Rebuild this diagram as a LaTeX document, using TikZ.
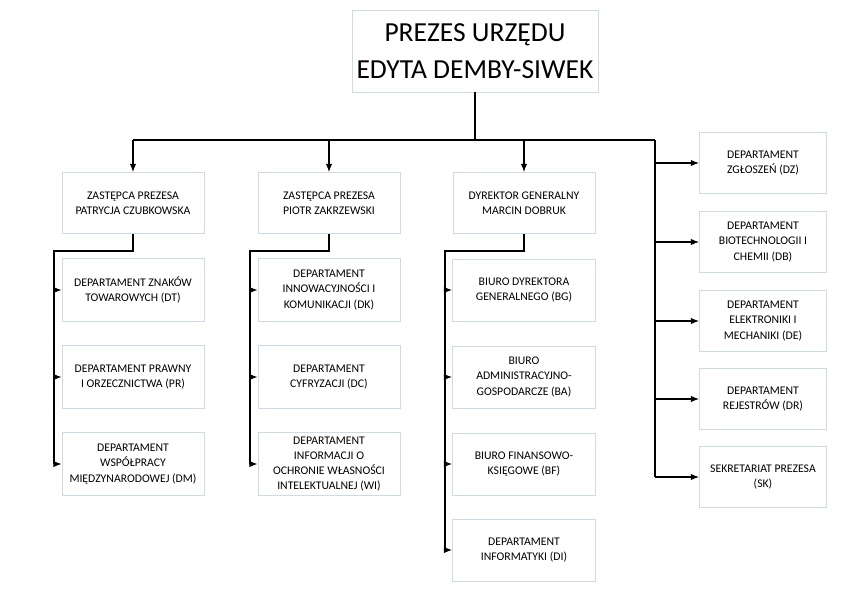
\documentclass[tikz,border=0pt]{standalone}
\usepackage{fontspec}
\setmainfont{Carlito}
\usetikzlibrary{positioning, arrows.meta}
\definecolor{boxline}{RGB}{205,218,232}
\tikzset{
	unit/.style={draw=boxline, line width=0.8pt, fill=white, align=center, font=\fontsize{10}{13}\selectfont, inner sep=2pt},
	link/.style={draw=black, line width=0.9pt, -{Latex[length=7pt, width=5.5pt]}}
}
\begin{document}
\begin{tikzpicture}[x=0.03cm, y=-0.03cm]
	\useasboundingbox (0,0) rectangle (866,606);
	\node[unit, minimum width=246*0.03cm, minimum height=82*0.03cm, font=\fontsize{23.5}{31}\selectfont] (prezes) at (475,51) {PREZES URZĘDU\\EDYTA DEMBY-SIWEK};
	% zastepcy i dyrektor
	\foreach \n/\x/\t in {zp1/133/{ZASTĘPCA PREZESA\\PATRYCJA CZUBKOWSKA}, zp2/329/{ZASTĘPCA PREZESA\\PIOTR ZAKRZEWSKI}, dg/524/{DYREKTOR GENERALNY\\MARCIN DOBRUK}}
		\node[unit, minimum width=142*0.03cm, minimum height=61*0.03cm] (\n) at (\x,203) {\t};
	% departamenty pod zastepcami
	\foreach \n/\y/\t in {dt/290/{DEPARTAMENT ZNAKÓW\\TOWAROWYCH (DT)}, pr/377/{DEPARTAMENT PRAWNY\\I ORZECZNICTWA (PR)}, dm/464/{DEPARTAMENT\\WSPÓŁPRACY\\MIĘDZYNARODOWEJ (DM)}}
		\node[unit, minimum width=142*0.03cm, minimum height=63*0.03cm] (\n) at (133,\y) {\t};
	\foreach \n/\y/\t in {dk/290/{DEPARTAMENT\\INNOWACYJNOŚCI I\\KOMUNIKACJI (DK)}, dc/377/{DEPARTAMENT\\CYFRYZACJI (DC)}, wi/464/{DEPARTAMENT\\INFORMACJI O\\OCHRONIE WŁASNOŚCI\\INTELEKTUALNEJ (WI)}}
		\node[unit, minimum width=142*0.03cm, minimum height=63*0.03cm] (\n) at (329,\y) {\t};
	\foreach \n/\y/\t in {bg/290/{BIURO DYREKTORA\\GENERALNEGO (BG)}, ba/377/{BIURO\\ADMINISTRACYJNO-\\GOSPODARCZE (BA)}, bf/464/{BIURO FINANSOWO-\\KSIĘGOWE (BF)}, di/550/{DEPARTAMENT\\INFORMATYKI (DI)}}
		\node[unit, minimum width=143*0.03cm, minimum height=62*0.03cm] (\n) at (524,\y) {\t};
	% departamenty prezesa
	\foreach \n/\y/\t in {dz/163/{DEPARTAMENT\\ZGŁOSZEŃ (DZ)}, db/242/{DEPARTAMENT\\BIOTECHNOLOGII I\\CHEMII (DB)}, de/321/{DEPARTAMENT\\ELEKTRONIKI I\\MECHANIKI (DE)}, dr/399/{DEPARTAMENT\\REJESTRÓW (DR)}, sk/477/{SEKRETARIAT PREZESA\\(SK)}}
		\node[unit, minimum width=127*0.03cm, minimum height=61*0.03cm] (\n) at (763,\y) {\t};
	% polaczenia
	\coordinate (hub) at (475,140);
	\coordinate (rt) at (655,140);
	\draw[line width=0.9pt] (prezes.south) -- (hub) (zp1.north |- hub) -- (rt);
	\foreach \n in {zp1, zp2, dg}
		\draw[link] (\n.north |- hub) -- (\n.north);
	\foreach \n in {dz, db, de, dr, sk}
		\draw[link] (rt |- \n.west) -- (\n.west);
	\draw[line width=0.9pt] (rt) -- (rt |- sk.west);
	\foreach \p/\x/\a/\b in {zp1/54/dt/dm, zp2/250/dk/wi, dg/445/bg/di} {
		\draw[line width=0.9pt] (\p.south) -- ++(0,17) -| (\x,{0}|-\b.west);
		\foreach \c in {\a,\b}
			\draw[link] (\x,0 |- \c.west) -- (\c.west);
	}
	\draw[link] (54,0 |- pr.west) -- (pr.west);
	\draw[link] (250,0 |- dc.west) -- (dc.west);
	\draw[link] (445,0 |- ba.west) -- (ba.west);
	\draw[link] (445,0 |- bf.west) -- (bf.west);
\end{tikzpicture}
\end{document}
